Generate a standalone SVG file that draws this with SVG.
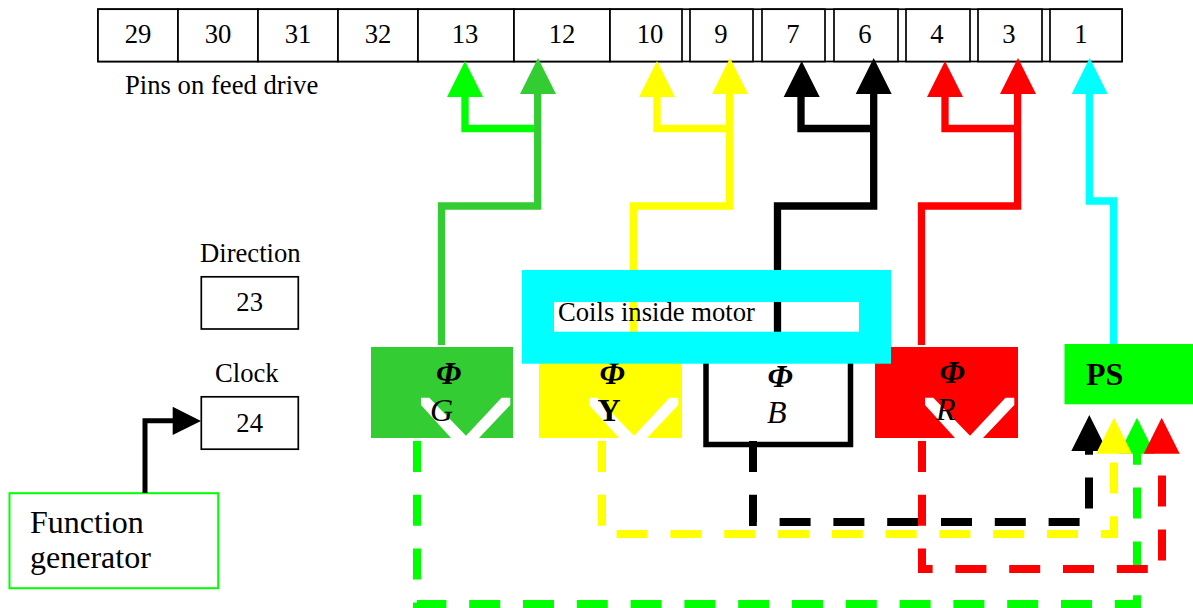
<svg xmlns="http://www.w3.org/2000/svg" width="1193" height="608" viewBox="0 0 1193 608">
<style>
text{font-family:"Liberation Serif","Times New Roman",serif;fill:#000}
.s{font-size:26.67px}.m{text-anchor:middle}.l{font-size:32px}
.i{font-style:italic}.b{font-weight:bold}
.box{fill:#fff;stroke:#000;stroke-width:1.7}
.w{fill:none;stroke-width:7.3;stroke-linejoin:miter}
.d{fill:none;stroke-width:8;stroke-dasharray:31 22.8;stroke-linejoin:miter}
.v{fill:#fff}
.lime{stroke:#3c3}.g{stroke:#0f0}.y{stroke:#ff0}.k{stroke:#000}.r{stroke:#f00}.c{stroke:#0ff}
</style>
<defs>
<polygon id="head" points="0,0 18,36 -18,36"/>
<polygon id="vee" points="50,50.7 58.3,50.7 95,88.7 130.5,50.7 139.3,50.7 139.3,58 108,91 80,91 50,58"/>
</defs>
<g id="pins">
<rect class="box" x="98" y="9.2" width="1024" height="52.3"/>
<g id="pin-29"><rect class="box" x="98" y="9.2" width="80" height="52.3"/><text class="s m" x="138" y="43">29</text></g>
<g id="pin-30"><rect class="box" x="178" y="9.2" width="80" height="52.3"/><text class="s m" x="218" y="43">30</text></g>
<g id="pin-31"><rect class="box" x="258" y="9.2" width="80" height="52.3"/><text class="s m" x="298" y="43">31</text></g>
<g id="pin-32"><rect class="box" x="338" y="9.2" width="80" height="52.3"/><text class="s m" x="378" y="43">32</text></g>
<g id="pin-13"><rect class="box" x="418" y="9.2" width="96" height="52.3"/><text class="s m" x="465" y="43">13</text></g>
<g id="pin-12"><rect class="box" x="514" y="9.2" width="96" height="52.3"/><text class="s m" x="562" y="43">12</text></g>
<g id="pin-10"><rect class="box" x="610" y="9.2" width="72" height="52.3"/><text class="s m" x="650" y="43">10</text></g>
<g id="pin-9"><rect class="box" x="690" y="9.2" width="63" height="52.3"/><text class="s m" x="721" y="43">9</text></g>
<g id="pin-7"><rect class="box" x="762" y="9.2" width="63" height="52.3"/><text class="s m" x="793" y="43">7</text></g>
<g id="pin-6"><rect class="box" x="834" y="9.2" width="64" height="52.3"/><text class="s m" x="865" y="43">6</text></g>
<g id="pin-4"><rect class="box" x="906" y="9.2" width="64" height="52.3"/><text class="s m" x="937" y="43">4</text></g>
<g id="pin-3"><rect class="box" x="978" y="9.2" width="64" height="52.3"/><text class="s m" x="1009" y="43">3</text></g>
<g id="pin-1"><rect class="box" x="1050" y="9.2" width="72" height="52.3"/><text class="s m" x="1081" y="43">1</text></g>
<text id="pins-label" class="s" x="125" y="94">Pins on feed drive</text>
</g>
<g id="direction"><text class="s" x="200" y="262">Direction</text><rect class="box" x="201.3" y="276.8" width="97" height="52.2"/><text class="s m" x="249.7" y="311">23</text></g>
<g id="clock"><text class="s" x="215" y="382.3">Clock</text><rect class="box" x="201.3" y="396.8" width="97" height="52.4"/><text class="s m" x="249.7" y="431.7">24</text></g>
<g id="function-generator"><rect x="9.5" y="493.2" width="208.7" height="95" fill="#fff" stroke="#0f0" stroke-width="2"/><text class="l" x="30" y="532.7">Function</text><text class="l" x="30" y="568.3">generator</text></g>
<g id="connectors">
<path class="w g" d="M465 94V128.5H534"/>
<path class="w lime" d="M537.7 94V206H441.5V345"/>
<path class="w y" d="M657 94V128.5H729.5"/>
<path class="w y" d="M729.5 94V206H633.3V332"/>
<path class="w k" d="M801 94V128.5H873.7"/>
<path class="w k" d="M873.7 94V206H777.5V332"/>
<path class="w r" d="M945 94V128.5H1017.6"/>
<path class="w r" d="M1017.6 94V206H921.5V345"/>
<path class="w c" d="M1089.3 94V201H1113.7V344"/>
<path d="M145 493V420.7H175" fill="none" stroke="#000" stroke-width="5"/>
<polygon points="201,421 172.7,406.7 172.7,435" fill="#000"/>
<use href="#head" x="465" y="61" fill="#0f0"/>
<use href="#head" x="538" y="58" fill="#3c3"/>
<use href="#head" x="657" y="61" fill="#ff0"/>
<use href="#head" x="730" y="58" fill="#ff0"/>
<use href="#head" x="801.7" y="61" fill="#000"/>
<use href="#head" x="873.7" y="58" fill="#000"/>
<use href="#head" x="945" y="61" fill="#f00"/>
<use href="#head" x="1018" y="58" fill="#f00"/>
<use href="#head" x="1089.7" y="58" fill="#0ff"/>
</g>
<g id="phase-g"><rect x="371" y="347" width="142" height="91" fill="#3c3"/><use class="v" href="#vee" x="371" y="347"/><text class="l i b m" x="448.5" y="384">Φ</text><text class="l i" x="430" y="420.7">G</text></g>
<g id="phase-y"><rect x="539" y="347" width="143" height="91" fill="#ff0"/><use class="v" href="#vee" x="539" y="347"/><text class="l i b m" x="612" y="384">Φ</text><text class="l b" x="597.6" y="421">Y</text></g>
<g id="phase-b"><rect x="706" y="347" width="144.5" height="97.5" fill="#fff" stroke="#000" stroke-width="5.5"/><text class="l i b m" x="780" y="386.7">Φ</text><text class="l i" x="767" y="422.7">B</text></g>
<g id="phase-r"><rect x="875" y="347" width="143" height="91" fill="#f00"/><use class="v" href="#vee" x="875" y="347"/><text class="l i b m" x="952" y="383">Φ</text><text class="l i" x="936" y="420">R</text></g>
<g id="power-supply"><rect x="1064.5" y="344" width="128.5" height="60.3" fill="#0f0"/><text class="l b" x="1086" y="385">PS</text></g>
<g id="return-connectors">
<path class="d g" d="M417 441V604H1137V453"/>
<path class="d k" d="M753 441V522H1089V451"/>
<path class="d y" d="M602 441V534H1114V453"/>
<path class="d r" d="M922 441V569H1162V453"/>
<use href="#head" x="1089.3" y="415" fill="#000"/>
<use href="#head" x="1137" y="417.7" fill="#0f0"/>
<use href="#head" x="1114" y="417.7" fill="#ff0"/>
<use href="#head" x="1161.7" y="417.7" fill="#f00"/>
</g>
<g id="coils"><rect x="538" y="286" width="337" height="61.7" fill="none" stroke="#0ff" stroke-width="32"/><text class="s" x="558" y="321">Coils inside motor</text></g>
</svg>
